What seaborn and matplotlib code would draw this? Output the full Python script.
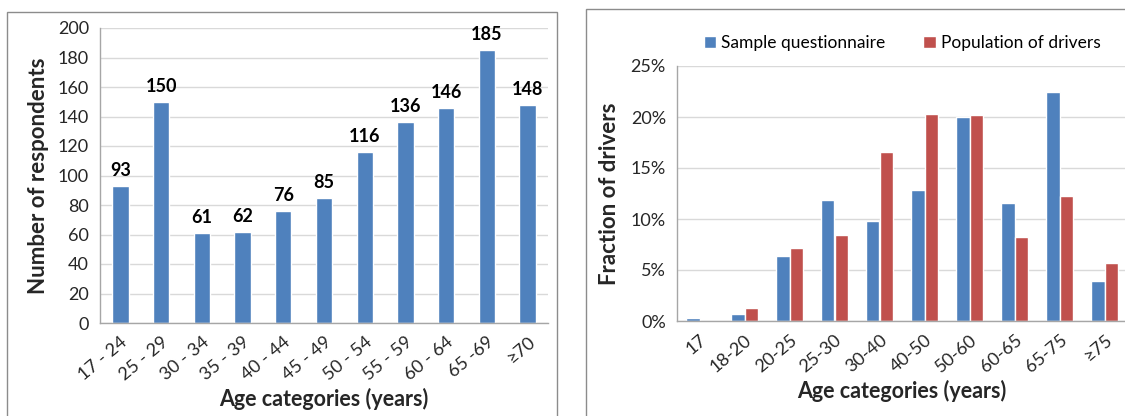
import numpy as np
import pandas as pd
import matplotlib
matplotlib.use('Agg')
import matplotlib.pyplot as plt
import matplotlib.patches as patches
from matplotlib.ticker import FuncFormatter, FixedLocator
import seaborn as sns

# left chart: respondents per age group
age_groups = ['17 - 24', '25 - 29', '30 - 34', '35 - 39', '40 - 44', '45 - 49',
              '50 - 54', '55 - 59', '60 - 64', '65 -69', '\u226570']
respondents = [93, 150, 61, 62, 76, 85, 116, 136, 146, 185, 148]

# right chart: sample vs population fractions
age_cats = ['17', '18-20', '20-25', '25-30', '30-40', '40-50', '50-60', '60-65', '65-75', '\u226575']
sample_frac = [0.0033, 0.0068, 0.064, 0.119, 0.098, 0.128, 0.200, 0.116, 0.225, 0.039]
population_frac = [0.0, 0.0124, 0.072, 0.084, 0.166, 0.203, 0.202, 0.082, 0.1225, 0.057]
series_names = ['Sample questionnaire', 'Population of drivers']

BLUE = '#4F81BD'
RED = '#C0504D'
GRID = '#D9D9D9'
AXIS = '#A6A6A6'

sns.set_style('white')
plt.rcParams['font.family'] = ['Lato', 'DejaVu Sans']
plt.rcParams['text.color'] = '#000000'

fig = plt.figure(figsize=(11.25, 4.16), dpi=100)

# panel frames
fig.add_artist(patches.Rectangle((7 / 1125, -0.05), 550 / 1125, 1.05 - 12 / 416,
                                 transform=fig.transFigure, fill=False,
                                 edgecolor='#8C8C8C', lw=1.0))
fig.add_artist(patches.Rectangle((586 / 1125, -0.05), 0.6, 1.05 - 9 / 416,
                                 transform=fig.transFigure, fill=False,
                                 edgecolor='#8C8C8C', lw=1.0))


def style_axis(ax, n):
    ax.grid(axis='y', color=GRID, lw=1.0)
    ax.set_axisbelow(True)
    for s in ['top', 'right']:
        ax.spines[s].set_visible(False)
    for s in ['left', 'bottom']:
        ax.spines[s].set_color(AXIS)
        ax.spines[s].set_linewidth(1.0)
    ax.xaxis.set_minor_locator(FixedLocator(np.arange(-0.5, n, 1.0)))
    ax.tick_params(axis='x', which='major', length=0, labelsize=13, pad=8)
    ax.tick_params(axis='x', which='minor', length=5, color=AXIS, direction='out')
    ax.tick_params(axis='y', length=5, color=AXIS, direction='out', labelsize=13, pad=3)
    ax.set_xlim(-0.5, n - 0.5)
    for lbl in ax.get_xticklabels():
        lbl.set_rotation(40)
        lbl.set_ha('right')
        lbl.set_rotation_mode('anchor')


# ---- left chart ----
ax1 = fig.add_axes([100 / 1125, 1 - 323 / 416, 448 / 1125, 295 / 416])
df1 = pd.DataFrame({'age': age_groups, 'n': respondents})
sns.barplot(data=df1, x='age', y='n', color=BLUE, saturation=1, width=0.4, ax=ax1)
ax1.set_ylim(0, 200)
ax1.set_yticks(range(0, 201, 20))
style_axis(ax1, len(age_groups))
ax1.bar_label(ax1.containers[0], fontsize=13, fontweight='bold', padding=5)
ax1.set_ylabel('Number of respondents', fontsize=16, fontweight='bold', labelpad=6)
ax1.set_xlabel('Age categories (years)', fontsize=15.5, fontweight='bold', labelpad=3)

# ---- right chart ----
ax2 = fig.add_axes([677 / 1125, 1 - 321 / 416, 450 / 1125, 255 / 416])
df2 = pd.DataFrame({
    'age': age_cats * 2,
    'frac': sample_frac + population_frac,
    'series': [series_names[0]] * len(age_cats) + [series_names[1]] * len(age_cats),
})
sns.barplot(data=df2, x='age', y='frac', hue='series', palette=[BLUE, RED],
            saturation=1, width=0.62, ax=ax2)
ax2.set_ylim(0, 0.25)
ax2.set_yticks(np.arange(0, 0.2501, 0.05))
ax2.yaxis.set_major_formatter(FuncFormatter(lambda v, p: f'{v * 100:.0f}%'))
style_axis(ax2, len(age_cats))
ax2.set_ylabel('Fraction of drivers', fontsize=16, fontweight='bold', labelpad=8)
ax2.set_xlabel('Age categories (years)', fontsize=15.5, fontweight='bold', labelpad=3)
ax2.legend(loc='lower center', bbox_to_anchor=(0.5, 1.03), ncol=2, frameon=False,
           fontsize=12.5, handlelength=0.7, handleheight=0.7, handletextpad=0.3,
           columnspacing=2.2, borderaxespad=0)

fig.savefig('out.png', dpi=100)
